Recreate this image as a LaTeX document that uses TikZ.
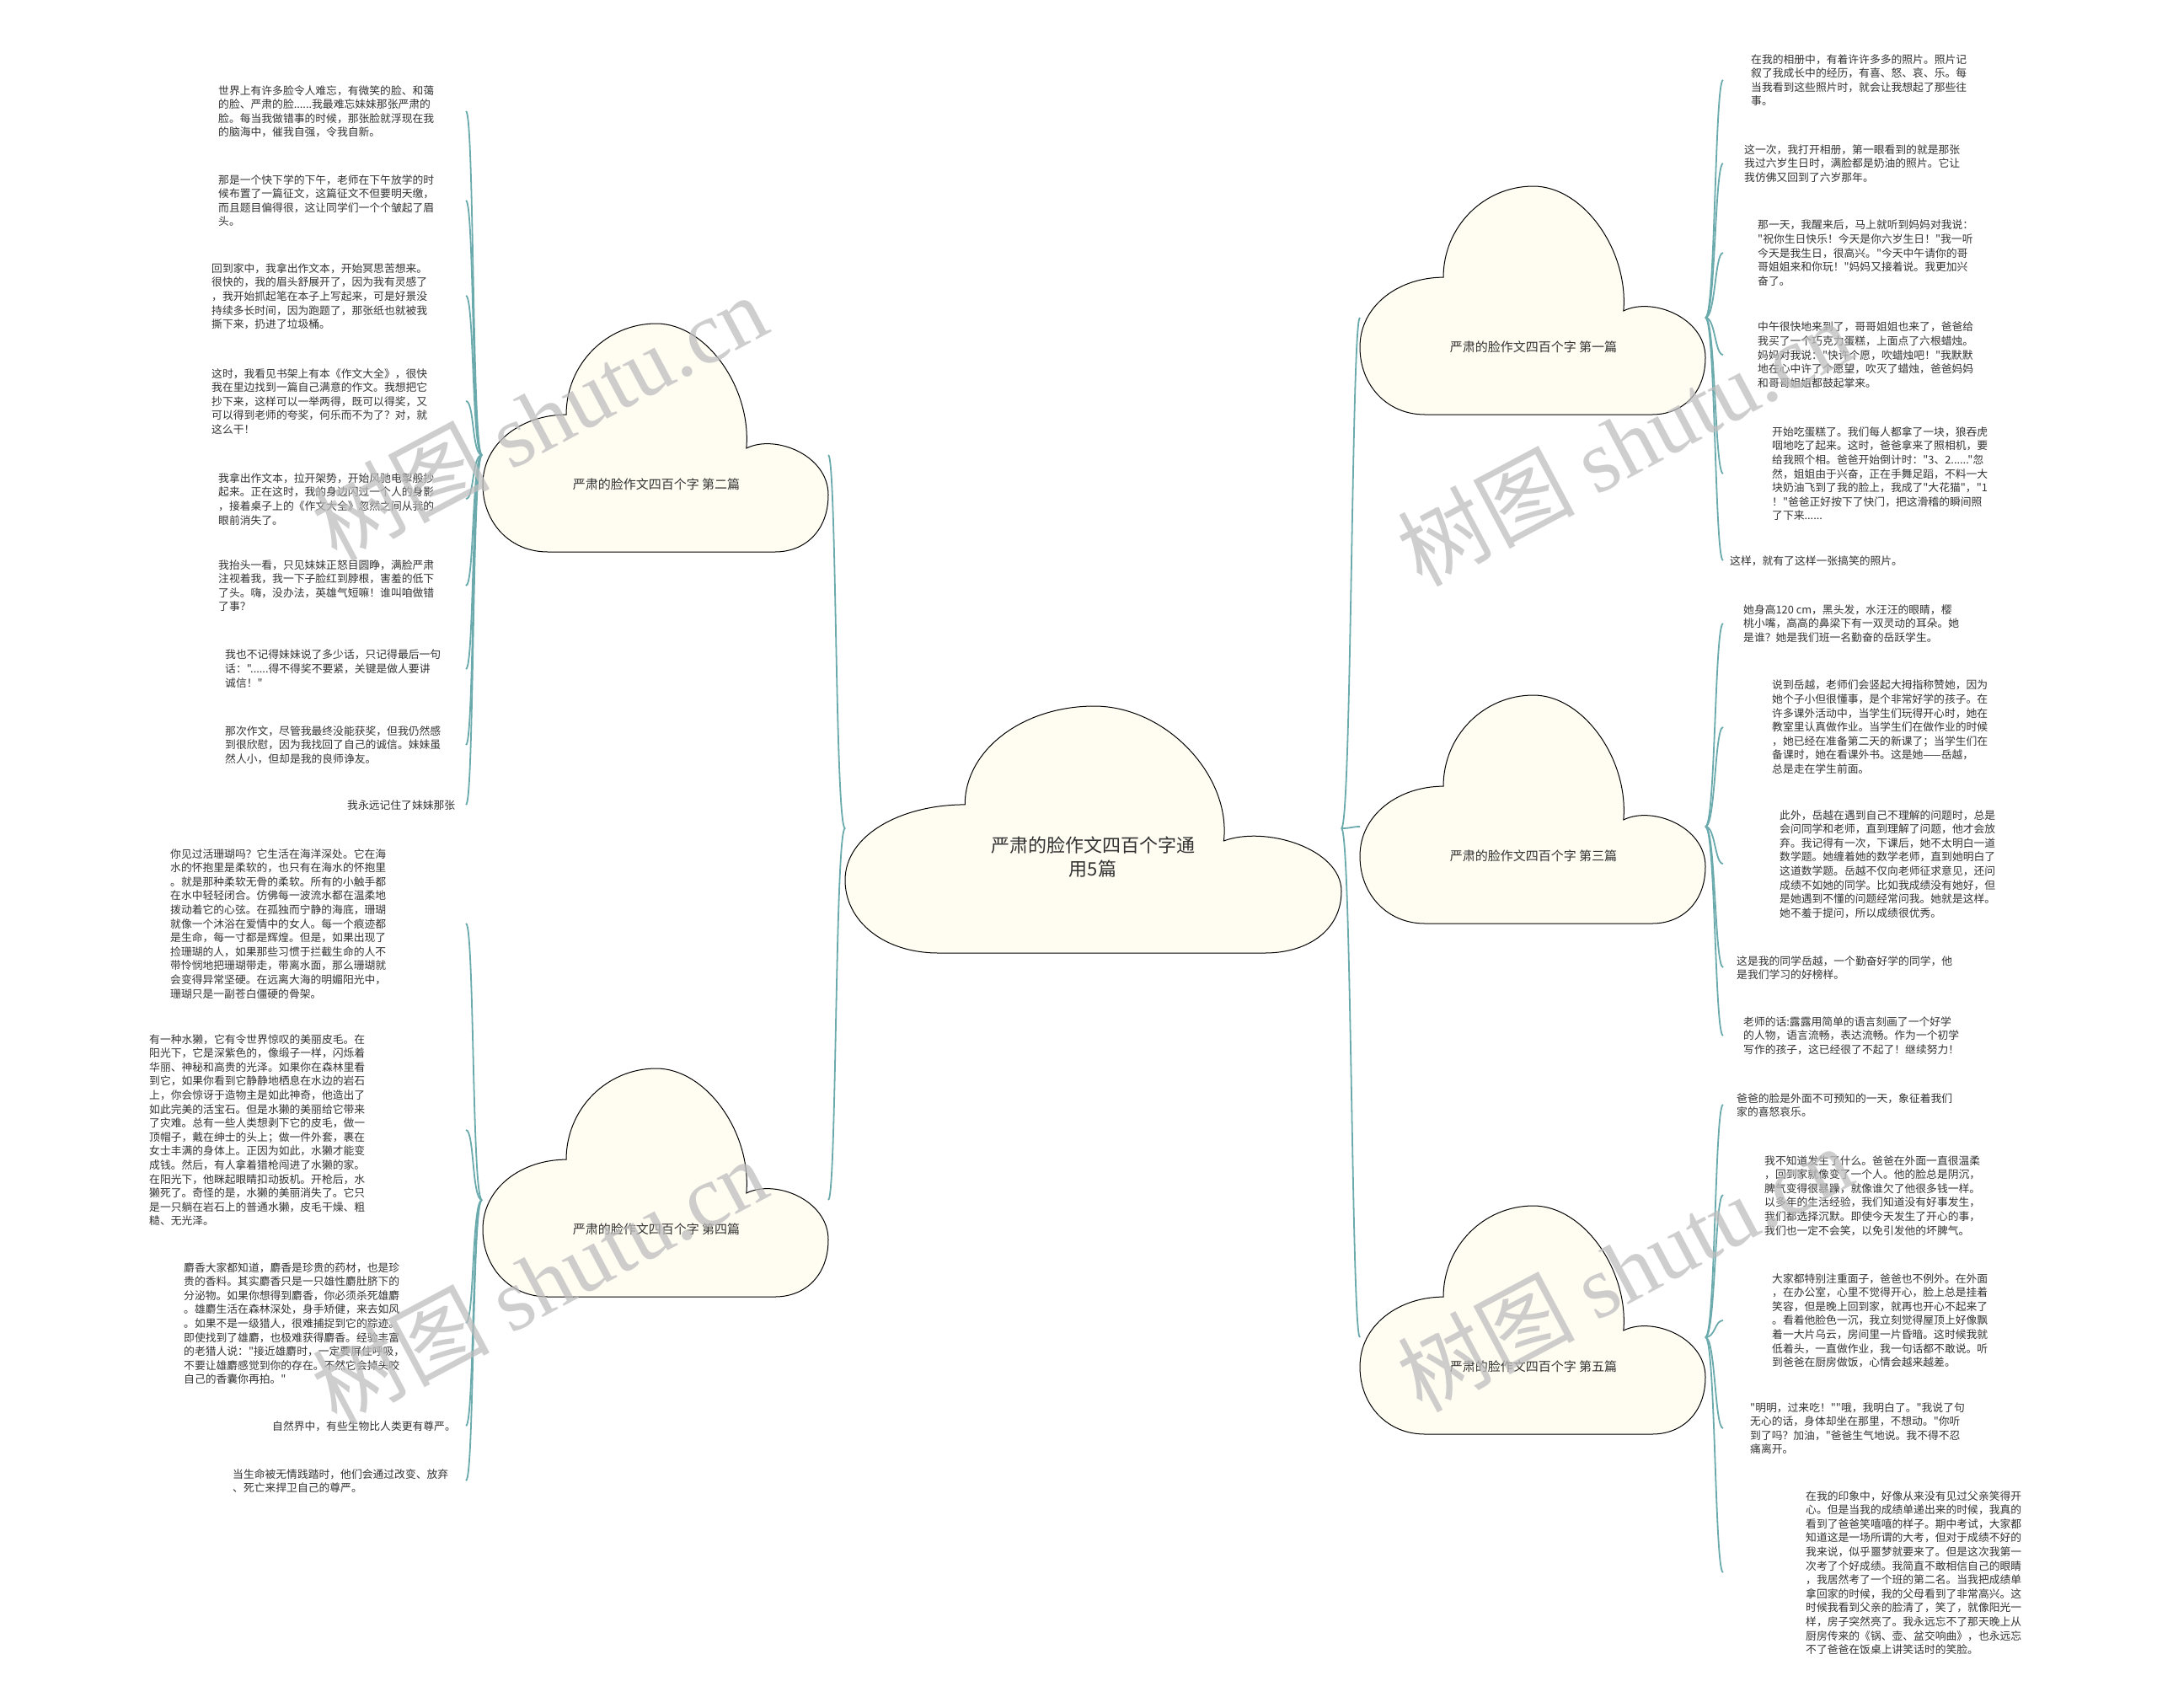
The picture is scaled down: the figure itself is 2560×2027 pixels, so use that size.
\documentclass[tikz,border=0pt]{standalone}
\usepackage{fontspec}
\newfontfamily\cjk{Noto Sans CJK SC}
\newfontfamily\wmserif{Liberation Serif}
\definecolor{linkc}{HTML}{6AAAAD}
\definecolor{cloudfill}{HTML}{FFFCF2}
\definecolor{txt}{HTML}{333333}
\definecolor{wmc}{HTML}{BEBEBE}
\newcommand\leaffont{\cjk\fontsize{12.8}{16.6}\selectfont}
\newcommand\cloudfont{\cjk\fontsize{15}{18}\selectfont}
\newcommand\rootfont{\cjk\fontsize{22}{28}\selectfont}
\newcommand\wmfont{\cjk\fontsize{105}{110}\selectfont}
% cloud outline: left, top, width, height
\newcommand\drawcloud[4]{%
 \draw[cloudst] ({#1+0.2415*#3},{#2+0.399*#4})
 .. controls ({#1+0.2415*#3},{#2+0.177*#4}) and ({#1+0.3585*#3},{#2}) .. ({#1+0.502*#3},{#2})
 .. controls ({#1+0.646*#3},{#2}) and ({#1+0.778*#3},{#2+0.280*#4}) .. ({#1+0.763*#3},{#2+0.546*#4})
 .. controls ({#1+0.846*#3},{#2+0.483*#4}) and ({#1+#3},{#2+0.576*#4}) .. ({#1+#3},{#2+0.75*#4})
 .. controls ({#1+#3},{#2+0.908*#4}) and ({#1+0.932*#3},{#2+#4}) .. ({#1+0.846*#3},{#2+#4})
 -- ({#1+0.188*#3},{#2+#4})
 .. controls ({#1+0.078*#3},{#2+#4}) and ({#1},{#2+0.871*#4}) .. ({#1},{#2+0.705*#4})
 .. controls ({#1},{#2+0.520*#4}) and ({#1+0.1146*#3},{#2+0.399*#4}) .. cycle;}
\newcommand\lnkL[2]{\draw[link] (#1) .. controls +(-12,0) and +(10,0) .. (#2);}
\newcommand\lnkR[2]{\draw[link] (#1) .. controls +(12,0) and +(-10,0) .. (#2);}
\tikzset{
 cloudst/.style={draw=black, line width=1pt, fill=cloudfill},
 link/.style={draw=linkc, line width=1.8pt},
 leaf/.style={anchor=north west, inner sep=0pt, align=left, font=\leaffont, text=txt},
 cloudlabel/.style={inner sep=0pt, font=\cloudfont, text=txt},
 rootlabel/.style={inner sep=0pt, align=center, font=\rootfont, text=txt},
 wm/.style={inner sep=0pt, font=\wmfont, text=wmc, opacity=0.75}
}
\begin{document}
\begin{tikzpicture}[x=1pt,y=-1pt]
\fill[white] (0,0) rectangle (2560,2027);
\useasboundingbox (0,0) rectangle (2560,2027);

% anchors
\coordinate (root-w) at (1003,983);
\coordinate (root-e) at (1592,983);
\coordinate (c2-w) at (572,540);   \coordinate (c2-e) at (983,540);
\coordinate (c4-w) at (572,1424);  \coordinate (c4-e) at (983,1424);
\coordinate (c1-w) at (1614,377);  \coordinate (c1-e) at (2024,377);
\coordinate (c3-w) at (1614,981);  \coordinate (c3-e) at (2024,981);
\coordinate (c5-w) at (1614,1587); \coordinate (c5-e) at (2024,1587);

% leaf connector ends
\coordinate (l2a-p) at (553,132);
\coordinate (l2b-p) at (553,238);
\coordinate (l2c-p) at (553,351);
\coordinate (l2d-p) at (553,476);
\coordinate (l2e-p) at (553,592);
\coordinate (l2f-p) at (553,695);
\coordinate (l2g-p) at (553,794);
\coordinate (l2h-p) at (553,884);
\coordinate (l2i-p) at (553,955);
\coordinate (l4a-p) at (553,1096);
\coordinate (l4b-p) at (553,1341);
\coordinate (l4c-p) at (553,1570);
\coordinate (l4d-p) at (553,1692);
\coordinate (l4e-p) at (553,1757);
\coordinate (r1a-p) at (2045,95);
\coordinate (r1b-p) at (2045,194);
\coordinate (r1c-p) at (2045,300);
\coordinate (r1d-p) at (2045,421);
\coordinate (r1e-p) at (2045,562);
\coordinate (r1f-p) at (2045,665);
\coordinate (r3a-p) at (2045,740);
\coordinate (r3b-p) at (2045,863);
\coordinate (r3c-p) at (2045,1025);
\coordinate (r3d-p) at (2045,1148);
\coordinate (r3e-p) at (2045,1229);
\coordinate (r5a-p) at (2045,1311);
\coordinate (r5b-p) at (2045,1418);
\coordinate (r5c-p) at (2045,1567);
\coordinate (r5d-p) at (2045,1695);
\coordinate (r5e-p) at (2045,1866);

% connectors
\lnkL{root-w}{c2-e}
\lnkL{root-w}{c4-e}
\lnkR{root-e}{c1-w}
\lnkR{root-e}{c3-w}
\lnkR{root-e}{c5-w}
\foreach \n in {l2a,l2b,l2c,l2d,l2e,l2f,l2g,l2h,l2i}{\lnkL{c2-w}{\n-p}}
\foreach \n in {l4a,l4b,l4c,l4d,l4e}{\lnkL{c4-w}{\n-p}}
\foreach \n in {r1a,r1b,r1c,r1d,r1e,r1f}{\lnkR{c1-e}{\n-p}}
\foreach \n in {r3a,r3b,r3c,r3d,r3e}{\lnkR{c3-e}{\n-p}}
\foreach \n in {r5a,r5b,r5c,r5d,r5e}{\lnkR{c5-e}{\n-p}}

% clouds
\drawcloud{1003}{838}{589}{293}
\drawcloud{573}{384}{410}{271}
\drawcloud{573}{1268}{410}{271}
\drawcloud{1614}{221}{410}{271}
\drawcloud{1614}{825}{410}{271}
\drawcloud{1614}{1431}{410}{271}

\node[rootlabel] (root) at (1297,1017) {严肃的脸作文四百个字通\\用5篇};
\node[cloudlabel] (c2) at (779,575) {严肃的脸作文四百个字 第二篇};
\node[cloudlabel] (c4) at (779,1459) {严肃的脸作文四百个字 第四篇};
\node[cloudlabel] (c1) at (1820,412) {严肃的脸作文四百个字 第一篇};
\node[cloudlabel] (c3) at (1820,1016) {严肃的脸作文四百个字 第三篇};
\node[cloudlabel] (c5) at (1820,1622) {严肃的脸作文四百个字 第五篇};

% left leaves, part 2
\node[leaf] (l2a) at (259,101) {世界上有许多脸令人难忘，有微笑的脸、和蔼\\的脸、严肃的脸......我最难忘妹妹那张严肃的\\脸。每当我做错事的时候，那张脸就浮现在我\\的脑海中，催我自强，令我自新。};
\node[leaf] (l2b) at (259,207) {那是一个快下学的下午，老师在下午放学的时\\候布置了一篇征文，这篇征文不但要明天缴，\\而且题目偏得很，这让同学们一个个皱起了眉\\头。};
\node[leaf] (l2c) at (251,312) {回到家中，我拿出作文本，开始冥思苦想来。\\很快的，我的眉头舒展开了，因为我有灵感了\\，我开始抓起笔在本子上写起来，可是好景没\\持续多长时间，因为跑题了，那张纸也就被我\\撕下来，扔进了垃圾桶。};
\node[leaf] (l2d) at (251,437) {这时，我看见书架上有本《作文大全》，很快\\我在里边找到一篇自己满意的作文。我想把它\\抄下来，这样可以一举两得，既可以得奖，又\\可以得到老师的夸奖，何乐而不为了？对，就\\这么干！};
\node[leaf] (l2e) at (259,561) {我拿出作文本，拉开架势，开始风驰电掣般抄\\起来。正在这时，我的身边闪过一个人的身影\\，接着桌子上的《作文大全》忽然之间从我的\\眼前消失了。};
\node[leaf] (l2f) at (259,664) {我抬头一看，只见妹妹正怒目圆睁，满脸严肃\\注视着我，我一下子脸红到脖根，害羞的低下\\了头。嗨，没办法，英雄气短嘛！谁叫咱做错\\了事？};
\node[leaf] (l2g) at (267,771) {我也不记得妹妹说了多少话，只记得最后一句\\话："......得不得奖不要紧，关键是做人要讲\\诚信！"};
\node[leaf] (l2h) at (267,861) {那次作文，尽管我最终没能获奖，但我仍然感\\到很欣慰，因为我找回了自己的诚信。妹妹虽\\然人小，但却是我的良师诤友。};
\node[leaf] (l2i) at (412,949) {我永远记住了妹妹那张};

% left leaves, part 4
\node[leaf] (l4a) at (202,1007) {你见过活珊瑚吗？它生活在海洋深处。它在海\\水的怀抱里是柔软的，也只有在海水的怀抱里\\。就是那种柔软无骨的柔软。所有的小触手都\\在水中轻轻闭合。仿佛每一波流水都在温柔地\\拨动着它的心弦。在孤独而宁静的海底，珊瑚\\就像一个沐浴在爱情中的女人。每一个痕迹都\\是生命，每一寸都是辉煌。但是，如果出现了\\捡珊瑚的人，如果那些习惯于拦截生命的人不\\带怜悯地把珊瑚带走，带离水面，那么珊瑚就\\会变得异常坚硬。在远离大海的明媚阳光中，\\珊瑚只是一副苍白僵硬的骨架。};
\node[leaf] (l4b) at (177,1227) {有一种水獭，它有令世界惊叹的美丽皮毛。在\\阳光下，它是深紫色的，像缎子一样，闪烁着\\华丽、神秘和高贵的光泽。如果你在森林里看\\到它，如果你看到它静静地栖息在水边的岩石\\上，你会惊讶于造物主是如此神奇，他造出了\\如此完美的活宝石。但是水獭的美丽给它带来\\了灾难。总有一些人类想剥下它的皮毛，做一\\顶帽子，戴在绅士的头上；做一件外套，裹在\\女士丰满的身体上。正因为如此，水獭才能变\\成钱。然后，有人拿着猎枪闯进了水獭的家。\\在阳光下，他眯起眼睛扣动扳机。开枪后，水\\獭死了。奇怪的是，水獭的美丽消失了。它只\\是一只躺在岩石上的普通水獭，皮毛干燥、粗\\糙、无光泽。};
\node[leaf] (l4c) at (218,1498) {麝香大家都知道，麝香是珍贵的药材，也是珍\\贵的香料。其实麝香只是一只雄性麝肚脐下的\\分泌物。如果你想得到麝香，你必须杀死雄麝\\。雄麝生活在森林深处，身手矫健，来去如风\\。如果不是一级猎人，很难捕捉到它的踪迹。\\即使找到了雄麝，也极难获得麝香。经验丰富\\的老猎人说："接近雄麝时，一定要屏住呼吸，\\不要让雄麝感觉到你的存在。不然它会掉头咬\\自己的香囊你再拍。"};
\node[leaf] (l4d) at (323,1686) {自然界中，有些生物比人类更有尊严。};
\node[leaf] (l4e) at (276,1743) {当生命被无情践踏时，他们会通过改变、放弃\\、死亡来捍卫自己的尊严。};

% right leaves, part 1
\node[leaf] (r1a) at (2078,64) {在我的相册中，有着许许多多的照片。照片记\\叙了我成长中的经历，有喜、怒、哀、乐。每\\当我看到这些照片时，就会让我想起了那些往\\事。};
\node[leaf] (r1b) at (2070,171) {这一次，我打开相册，第一眼看到的就是那张\\我过六岁生日时，满脸都是奶油的照片。它让\\我仿佛又回到了六岁那年。};
\node[leaf] (r1c) at (2086,261) {那一天，我醒来后，马上就听到妈妈对我说：\\"祝你生日快乐！今天是你六岁生日！"我一听\\今天是我生日，很高兴。"今天中午请你的哥\\哥姐姐来和你玩！"妈妈又接着说。我更加兴\\奋了。};
\node[leaf] (r1d) at (2086,382) {中午很快地来到了，哥哥姐姐也来了，爸爸给\\我买了一个巧克力蛋糕，上面点了六根蜡烛。\\妈妈对我说："快许个愿，吹蜡烛吧！"我默默\\地在心中许了个愿望，吹灭了蜡烛，爸爸妈妈\\和哥哥姐姐都鼓起掌来。};
\node[leaf] (r1e) at (2103,506) {开始吃蛋糕了。我们每人都拿了一块，狼吞虎\\咽地吃了起来。这时，爸爸拿来了照相机，要\\给我照个相。爸爸开始倒计时："3、2......"忽\\然，姐姐由于兴奋，正在手舞足蹈，不料一大\\块奶油飞到了我的脸上，我成了"大花猫"，"1\\！"爸爸正好按下了快门，把这滑稽的瞬间照\\了下来......};
\node[leaf] (r1f) at (2053,659) {这样，就有了这样一张搞笑的照片。};

% right leaves, part 3
\node[leaf] (r3a) at (2069,717) {她身高120 cm，黑头发，水汪汪的眼睛，樱\\桃小嘴，高高的鼻梁下有一双灵动的耳朵。她\\是谁？她是我们班一名勤奋的岳跃学生。};
\node[leaf] (r3b) at (2103,807) {说到岳越，老师们会竖起大拇指称赞她，因为\\她个子小但很懂事，是个非常好学的孩子。在\\许多课外活动中，当学生们玩得开心时，她在\\教室里认真做作业。当学生们在做作业的时候\\，她已经在准备第二天的新课了；当学生们在\\备课时，她在看课外书。这是她——岳越，\\总是走在学生前面。};
\node[leaf] (r3c) at (2112,961) {此外，岳越在遇到自己不理解的问题时，总是\\会问同学和老师，直到理解了问题，他才会放\\弃。我记得有一次，下课后，她不太明白一道\\数学题。她缠着她的数学老师，直到她明白了\\这道数学题。岳越不仅向老师征求意见，还问\\成绩不如她的同学。比如我成绩没有她好，但\\是她遇到不懂的问题经常问我。她就是这样。\\她不羞于提问，所以成绩很优秀。};
\node[leaf] (r3d) at (2061,1134) {这是我的同学岳越，一个勤奋好学的同学，他\\是我们学习的好榜样。};
\node[leaf] (r3e) at (2069,1206) {老师的话:露露用简单的语言刻画了一个好学\\的人物，语言流畅，表达流畅。作为一个初学\\写作的孩子，这已经很了不起了！继续努力！};

% right leaves, part 5
\node[leaf] (r5a) at (2061,1297) {爸爸的脸是外面不可预知的一天，象征着我们\\家的喜怒哀乐。};
\node[leaf] (r5b) at (2094,1371) {我不知道发生了什么。爸爸在外面一直很温柔\\，回到家就像变了一个人。他的脸总是阴沉，\\脾气变得很暴躁，就像谁欠了他很多钱一样。\\以多年的生活经验，我们知道没有好事发生，\\我们都选择沉默。即使今天发生了开心的事，\\我们也一定不会笑，以免引发他的坏脾气。};
\node[leaf] (r5c) at (2103,1511) {大家都特别注重面子，爸爸也不例外。在外面\\，在办公室，心里不觉得开心，脸上总是挂着\\笑容，但是晚上回到家，就再也开心不起来了\\。看着他脸色一沉，我立刻觉得屋顶上好像飘\\着一大片乌云，房间里一片昏暗。这时候我就\\低着头，一直做作业，我一句话都不敢说。听\\到爸爸在厨房做饭，心情会越来越差。};
\node[leaf] (r5d) at (2077,1664) {"明明，过来吃！""哦，我明白了。"我说了句\\无心的话，身体却坐在那里，不想动。"你听\\到了吗？加油，"爸爸生气地说。我不得不忍\\痛离开。};
\node[leaf] (r5e) at (2143,1769) {在我的印象中，好像从来没有见过父亲笑得开\\心。但是当我的成绩单递出来的时候，我真的\\看到了爸爸笑嘻嘻的样子。期中考试，大家都\\知道这是一场所谓的大考，但对于成绩不好的\\我来说，似乎噩梦就要来了。但是这次我第一\\次考了个好成绩。我简直不敢相信自己的眼睛\\，我居然考了一个班的第二名。当我把成绩单\\拿回家的时候，我的父母看到了非常高兴。这\\时候我看到父亲的脸清了，笑了，就像阳光一\\样，房子突然亮了。我永远忘不了那天晚上从\\厨房传来的《锅、壶、盆交响曲》，也永远忘\\不了爸爸在饭桌上讲笑话时的笑脸。};

% watermarks
\node[wm, rotate=28] (wm1) at (640,495) {树图 {\wmserif shutu.cn}};
\node[wm, rotate=28] (wm2) at (640,1520) {树图 {\wmserif shutu.cn}};
\node[wm, rotate=28] (wm3) at (1928,525) {树图 {\wmserif shutu.cn}};
\node[wm, rotate=28] (wm4) at (1928,1505) {树图 {\wmserif shutu.cn}};
\end{tikzpicture}
\end{document}
